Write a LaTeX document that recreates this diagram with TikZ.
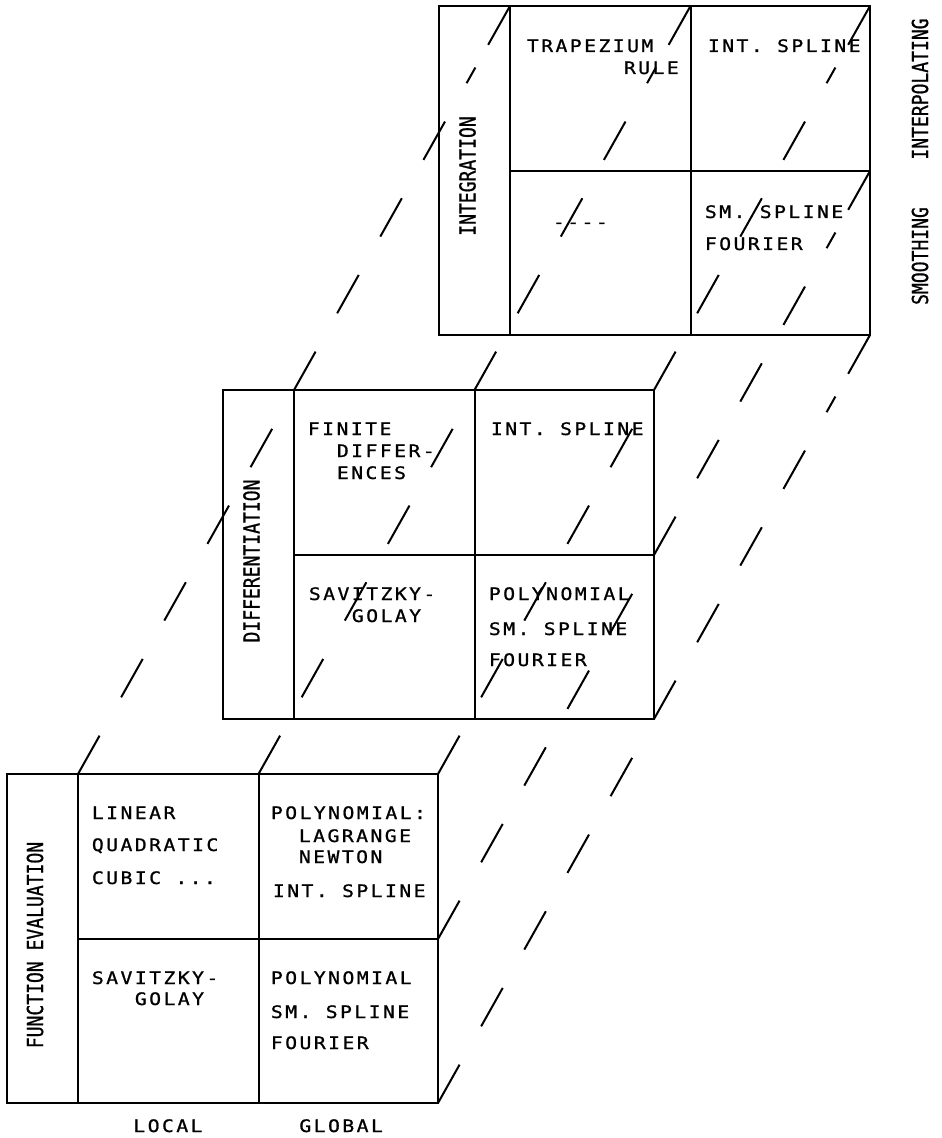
\documentclass[tikz,border=0pt]{standalone}
\usepackage{fontspec}
\newfontfamily\plotfont[FakeStretch=1.15, LetterSpace=14, FakeBold=1]{DejaVu Sans Mono}
\newfontfamily\tallfont[FakeStretch=0.82, FakeBold=0.8]{DejaVu Sans Mono}
\definecolor{ink}{HTML}{000000}

\begin{document}
\begin{tikzpicture}[
  x=0.5pt, y=-0.5pt,
  frame/.style={ink, line width=1pt},
  depth/.style={ink, line width=1pt, dash pattern=on 22pt off 22pt},
  depthback/.style={ink, line width=1pt,
    dash pattern=on 22pt off 22pt on 22pt off 22pt on 22pt off 22pt on 22pt off 22pt on 9pt off 13pt on 30pt off 30pt},
  entry/.style={ink, font=\plotfont\fontsize{8.6}{10}\selectfont, anchor=base west, inner sep=0pt},
  side/.style={ink, font=\tallfont\fontsize{11}{13}\selectfont, rotate=90, anchor=base, inner sep=0pt},
]
\useasboundingbox (0,0) rectangle (941,1138);

% ===== Back panel: integration =====
\begin{scope}[shift={(438.5,6)}]
  \draw[frame] (0,0) rectangle (431.5,329);
  \draw[frame] (71.5,0) -- (71.5,329);
  \draw[frame] (252,0) -- (252,329);
  \draw[frame] (71.5,165) -- (431.5,165);

  % Corners for the depth lines
  \coordinate (i-lt) at (71.5,0);
  \coordinate (i-mt) at (252,0);
  \coordinate (i-rt) at (431.5,0);
  \coordinate (i-rc) at (431.5,165);
  \coordinate (i-rb) at (431.5,329);

  \node[side] (i-name) at (37,170) {INTEGRATION};
  \node[entry] (i-trap) at (88,46) {TRAPEZIUM};
  \node[entry] (i-rule) at (185,68) {RULE};
  \node[entry] (i-ispl) at (269,46) {INT. SPLINE};
  \node[entry] (i-none) at (114,222) {----};
  \node[entry] (i-sspl) at (266,212) {SM. SPLINE};
  \node[entry] (i-four) at (266,244) {FOURIER};

  % Row labels on the right
  \node[side] (interp) at (489.5,83) {INTERPOLATING};
  \node[side] (smooth) at (489.5,250) {SMOOTHING};
\end{scope}

% ===== Middle panel: differentiation =====
\begin{scope}[shift={(222.5,390)}]
  \draw[frame] (0,0) rectangle (431.5,329);
  \draw[frame] (71.5,0) -- (71.5,329);
  \draw[frame] (252,0) -- (252,329);
  \draw[frame] (71.5,165) -- (431.5,165);

  \coordinate (d-lt) at (71.5,0);
  \coordinate (d-mt) at (252,0);
  \coordinate (d-rt) at (431.5,0);
  \coordinate (d-rc) at (431.5,165);
  \coordinate (d-rb) at (431.5,329);

  \node[side] (d-name) at (37,171) {DIFFERENTIATION};
  \node[entry] (d-fin) at (85,45) {FINITE};
  \node[entry] (d-dif) at (114,67) {DIFFER-};
  \node[entry] (d-enc) at (114,89) {ENCES};
  \node[entry] (d-ispl) at (268,45) {INT. SPLINE};
  \node[entry] (d-sav) at (86,210) {SAVITZKY-};
  \node[entry] (d-gol) at (129,232) {GOLAY};
  \node[entry] (d-poly) at (266,210) {POLYNOMIAL};
  \node[entry] (d-sspl) at (266,245) {SM. SPLINE};
  \node[entry] (d-four) at (266,276) {FOURIER};
\end{scope}

% ===== Front panel: function evaluation =====
\begin{scope}[shift={(6.5,774)}]
  \draw[frame] (0,0) rectangle (431.5,329);
  \draw[frame] (71.5,0) -- (71.5,329);
  \draw[frame] (252,0) -- (252,329);
  \draw[frame] (71.5,165) -- (431.5,165);

  \coordinate (f-lt) at (71.5,0);
  \coordinate (f-mt) at (252,0);
  \coordinate (f-rt) at (431.5,0);
  \coordinate (f-rc) at (431.5,165);
  \coordinate (f-rb) at (431.5,329);

  \node[side] (f-name) at (36.5,171) {FUNCTION EVALUATION};
  \node[entry] (f-lin) at (85,45) {LINEAR};
  \node[entry] (f-quad) at (85,77) {QUADRATIC};
  \node[entry] (f-cub) at (85,110) {CUBIC ...};
  \node[entry] (f-poly) at (264,45) {POLYNOMIAL:};
  \node[entry] (f-lag) at (292,68) {LAGRANGE};
  \node[entry] (f-new) at (292,89) {NEWTON};
  \node[entry] (f-ispl) at (266,123) {INT. SPLINE};
  \node[entry] (f-sav) at (85,210) {SAVITZKY-};
  \node[entry] (f-gol) at (128,231) {GOLAY};
  \node[entry] (f-spoly) at (264,210) {POLYNOMIAL};
  \node[entry] (f-sspl) at (264,244) {SM. SPLINE};
  \node[entry] (f-four) at (264,275) {FOURIER};

  % Column labels
  \node[entry] (local) at (126.5,358) {LOCAL};
  \node[entry] (global) at (292.5,358) {GLOBAL};
\end{scope}

% ===== Depth lines, front to middle =====
\draw[depth] (f-lt) -- (d-lt);
\draw[depth] (f-mt) -- (d-mt);
\draw[depth] (f-rt) -- (d-rt);
\draw[depth] (f-rc) -- (d-rc);
\draw[depth] (f-rb) -- (d-rb);

% ===== Depth lines, middle to back =====
\draw[depthback] (d-lt) -- (i-lt);
\draw[depthback] (d-mt) -- (i-mt);
\draw[depthback] (d-rt) -- (i-rt);
\draw[depthback] (d-rc) -- (i-rc);
\draw[depthback] (d-rb) -- (i-rb);

\end{tikzpicture}
\end{document}
